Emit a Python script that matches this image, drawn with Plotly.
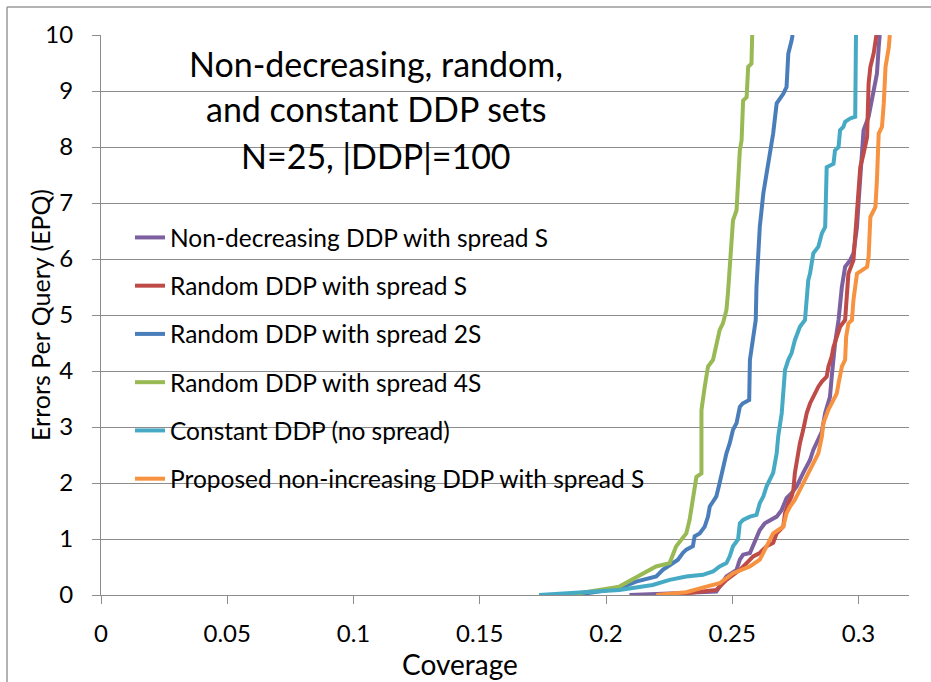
import plotly.graph_objects as go

# ---------------- data ----------------
series_names = [
    "Non-decreasing DDP with spread S",
    "Random DDP with spread S",
    "Random DDP with spread 2S",
    "Random DDP with spread 4S",
    "Constant DDP (no spread)",
    "Proposed non-increasing DDP with spread S",
]
series_colors = ["#7D60A0", "#BE4B48", "#4A7EBB", "#98B954", "#46AAC5", "#F69240"]

nondec_x = [0.2093, 0.2437, 0.2477, 0.2517, 0.2530, 0.2543, 0.2570, 0.2589, 0.2609, 0.2629,
            0.2649, 0.2676, 0.2696, 0.2715, 0.2735, 0.2755, 0.2781, 0.2808, 0.2821, 0.2841,
            0.2855, 0.2868, 0.2887, 0.2894, 0.2907, 0.2921, 0.2934, 0.2947, 0.2967, 0.2980,
            0.2994, 0.3000, 0.3007, 0.3014, 0.3020, 0.3040, 0.3053, 0.3060, 0.3073, 0.3080, 0.3084]
nondec_y = [0, 0.06, 0.33, 0.45, 0.63, 0.72, 0.75, 0.93, 1.16, 1.28,
            1.34, 1.40, 1.52, 1.73, 1.82, 1.94, 2.18, 2.41, 2.59, 2.77,
            2.92, 3.25, 3.54, 3.90, 4.49, 4.91, 5.50, 5.86, 5.98, 6.10,
            6.57, 6.99, 7.41, 7.82, 8.30, 8.54, 8.83, 9.07, 9.31, 9.78, 10]

rand_s_x = [0.2252, 0.2437, 0.2477, 0.2530, 0.2557, 0.2583, 0.2609, 0.2636, 0.2662, 0.2676,
            0.2689, 0.2702, 0.2709, 0.2722, 0.2735, 0.2742, 0.2748, 0.2755, 0.2768, 0.2781,
            0.2795, 0.2808, 0.2821, 0.2841, 0.2855, 0.2874, 0.2881, 0.2894, 0.2901, 0.2914,
            0.2927, 0.2947, 0.2960, 0.2980, 0.2987, 0.2994, 0.3000, 0.3007, 0.3020, 0.3034,
            0.3040, 0.3047, 0.3060, 0.3071]
rand_s_y = [0, 0.09, 0.27, 0.45, 0.57, 0.69, 0.75, 0.87, 0.93, 1.10,
            1.16, 1.22, 1.46, 1.64, 1.76, 1.88, 2.18, 2.41, 2.71, 2.95,
            3.25, 3.42, 3.54, 3.72, 3.81, 3.90, 4.08, 4.26, 4.43, 4.61,
            4.79, 4.91, 5.74, 5.98, 6.40, 6.93, 7.29, 7.64, 7.88, 8.18,
            9.13, 9.43, 9.67, 10]

rand_2s_x = [0.1880, 0.2053, 0.2119, 0.2199, 0.2225, 0.2252, 0.2285, 0.2304, 0.2318, 0.2344,
             0.2351, 0.2371, 0.2391, 0.2404, 0.2411, 0.2424, 0.2437, 0.2450, 0.2463, 0.2477,
             0.2490, 0.2503, 0.2517, 0.2530, 0.2541, 0.2567, 0.2570, 0.2583, 0.2593, 0.2596,
             0.2603, 0.2609, 0.2623, 0.2636, 0.2649, 0.2662, 0.2676, 0.2702, 0.2715, 0.2722,
             0.2735, 0.2739]
rand_2s_y = [0, 0.12, 0.24, 0.33, 0.45, 0.54, 0.63, 0.75, 0.81, 0.87,
             1.05, 1.10, 1.22, 1.40, 1.58, 1.67, 1.76, 2.00, 2.29, 2.53,
             2.71, 2.95, 3.07, 3.36, 3.42, 3.48, 4.20, 4.67, 4.91, 5.50,
             6.10, 6.57, 7.17, 7.53, 7.89, 8.24, 8.78, 8.95, 9.07, 9.67,
             9.90, 10]

rand_4s_x = [0.1850, 0.2053, 0.2198, 0.2252, 0.2278, 0.2318, 0.2331, 0.2344, 0.2358, 0.2378,
             0.2378, 0.2391, 0.2404, 0.2424, 0.2437, 0.2450, 0.2463, 0.2477, 0.2483, 0.2490,
             0.2503, 0.2517, 0.2523, 0.2530, 0.2537, 0.2543, 0.2557, 0.2563, 0.2576, 0.2579]
rand_4s_y = [0, 0.15, 0.51, 0.57, 0.87, 1.10, 1.34, 1.70, 2.11, 2.17,
             3.30, 3.72, 4.08, 4.20, 4.49, 4.73, 4.85, 5.09, 5.39, 5.92,
             6.69, 6.87, 7.58, 7.94, 8.12, 8.83, 8.89, 9.43, 9.49, 10]

const_x = [0.1735, 0.1987, 0.2053, 0.2185, 0.2252, 0.2318, 0.2384, 0.2424, 0.2450, 0.2477,
           0.2490, 0.2503, 0.2523, 0.2530, 0.2543, 0.2570, 0.2596, 0.2609, 0.2623, 0.2636,
           0.2649, 0.2662, 0.2676, 0.2682, 0.2696, 0.2702, 0.2709, 0.2722, 0.2735, 0.2748,
           0.2768, 0.2788, 0.2801, 0.2808, 0.2821, 0.2841, 0.2855, 0.2868, 0.2874, 0.2901,
           0.2907, 0.2921, 0.2927, 0.2940, 0.2947, 0.2967, 0.2987, 0.2990]
const_y = [0, 0.06, 0.09, 0.18, 0.27, 0.33, 0.36, 0.42, 0.51, 0.57,
           0.69, 0.87, 0.99, 1.28, 1.34, 1.40, 1.43, 1.64, 1.76, 1.94,
           2.05, 2.18, 2.53, 2.83, 3.25, 3.72, 4.02, 4.20, 4.32, 4.55,
           4.79, 4.91, 5.62, 5.74, 6.10, 6.22, 6.46, 6.57, 7.64, 7.70,
           7.94, 8.00, 8.30, 8.36, 8.45, 8.51, 8.54, 10]

prop_x = [0.2199, 0.2318, 0.2397, 0.2450, 0.2503, 0.2570, 0.2609, 0.2636, 0.2662, 0.2682,
          0.2702, 0.2715, 0.2729, 0.2748, 0.2768, 0.2788, 0.2808, 0.2828, 0.2841, 0.2855,
          0.2861, 0.2881, 0.2901, 0.2914, 0.2921, 0.2934, 0.2947, 0.2951, 0.2960, 0.2974,
          0.2980, 0.2994, 0.3034, 0.3040, 0.3047, 0.3067, 0.3073, 0.3080, 0.3093, 0.3100,
          0.3107, 0.3120, 0.3124]
prop_y = [0, 0.05, 0.15, 0.21, 0.39, 0.51, 0.63, 0.87, 1.10, 1.16,
          1.22, 1.46, 1.58, 1.70, 1.88, 2.05, 2.23, 2.41, 2.53, 2.83,
          3.07, 3.31, 3.48, 3.60, 3.78, 4.08, 4.20, 4.61, 4.85, 4.91,
          5.27, 5.74, 5.86, 6.04, 6.75, 6.93, 7.41, 8.24, 8.36, 8.77,
          9.43, 9.78, 10]

x_tickvals = [0, 0.05, 0.1, 0.15, 0.2, 0.25, 0.3]
x_ticktext = ["0", "0.05", "0.1", "0.15", "0.2", "0.25", "0.3"]
y_tickvals = list(range(0, 11))

title_lines = ["Non-decreasing, random,", "and constant DDP sets", "N=25, |DDP|=100"]
x_title = "Coverage"
y_title = "Errors Per Query (EPQ)"

all_x = [nondec_x, rand_s_x, rand_2s_x, rand_4s_x, const_x, prop_x]
all_y = [nondec_y, rand_s_y, rand_2s_y, rand_4s_y, const_y, prop_y]

# ---------------- figure ----------------
FONT = "Lato, 'Open Sans', sans-serif"
W, H = 931, 682
ML, MR, MT, MB = 101, 22, 35, 87
PW, PH = W - ML - MR, H - MT - MB

def px2paper_x(px):
    return (px - ML) / PW

def px2paper_y(py):
    return (H - MB - py) / PH

fig = go.Figure()
for i, (name, col, xs, ys) in enumerate(zip(series_names, series_colors, all_x, all_y)):
    assert len(xs) == len(ys), name
    fig.add_trace(go.Scatter(
        x=xs, y=ys, mode="lines", name=name,
        line=dict(color=col, width=4),
        legendgroup="g%d" % i,
    ))

grid_col = "#8C8C8C"
fig.update_layout(
    width=W, height=H,
    margin=dict(l=ML, r=MR, t=MT, b=MB),
    paper_bgcolor="white", plot_bgcolor="white",
    font=dict(family=FONT, color="#000000"),
    showlegend=True,
    legend=dict(
        x=px2paper_x(130), y=px2paper_y(215), xanchor="left", yanchor="top",
        bgcolor="rgba(0,0,0,0)", borderwidth=0,
        font=dict(family=FONT, size=24.5, color="#000000"),
        tracegroupgap=13.4, traceorder="grouped",
        itemwidth=30,
    ),
    xaxis=dict(
        range=[0, 0.32], tickvals=x_tickvals, ticktext=x_ticktext,
        showgrid=False, zeroline=False,
        showline=True, linecolor=grid_col, linewidth=1,
        ticks="outside", ticklen=8, tickcolor=grid_col,
        tickfont=dict(family=FONT, size=24, color="#000000"),
        ticklabelstandoff=9,
    ),
    yaxis=dict(
        range=[0, 10], tickvals=y_tickvals,
        showgrid=True, gridcolor=grid_col, gridwidth=1, zeroline=False,
        showline=True, linecolor=grid_col, linewidth=1,
        ticks="outside", ticklen=8, tickcolor=grid_col,
        tickfont=dict(family=FONT, size=24, color="#000000"),
        ticklabelstandoff=14,
    ),
)

# chart title (three lines)
title_y_px = [66, 112, 158]
for txt, ypx in zip(title_lines, title_y_px):
    fig.add_annotation(
        text=txt, xref="paper", yref="paper",
        x=px2paper_x(376), y=px2paper_y(ypx - 3),
        xanchor="center", yanchor="middle", showarrow=False,
        font=dict(family=FONT, size=34, color="#000000"),
    )

# axis titles
fig.add_annotation(
    text=x_title, xref="paper", yref="paper",
    x=px2paper_x(460), y=px2paper_y(663.5), xanchor="center", yanchor="middle",
    showarrow=False, font=dict(family=FONT, size=28, color="#000000"),
)
fig.add_annotation(
    text=y_title, xref="paper", yref="paper",
    x=px2paper_x(40), y=px2paper_y(315), xanchor="center", yanchor="middle",
    textangle=-90, showarrow=False, font=dict(family=FONT, size=25, color="#000000"),
)

# outer chart border (top and left visible)
border_col = "#9A9A9A"
fig.add_shape(type="line", xref="paper", yref="paper",
              x0=px2paper_x(7), x1=px2paper_x(W + 5), y0=px2paper_y(7), y1=px2paper_y(7),
              line=dict(color=border_col, width=1.5))
fig.add_shape(type="line", xref="paper", yref="paper",
              x0=px2paper_x(7), x1=px2paper_x(7), y0=px2paper_y(7), y1=px2paper_y(H + 5),
              line=dict(color=border_col, width=1.5))

fig.write_html("out.html")
